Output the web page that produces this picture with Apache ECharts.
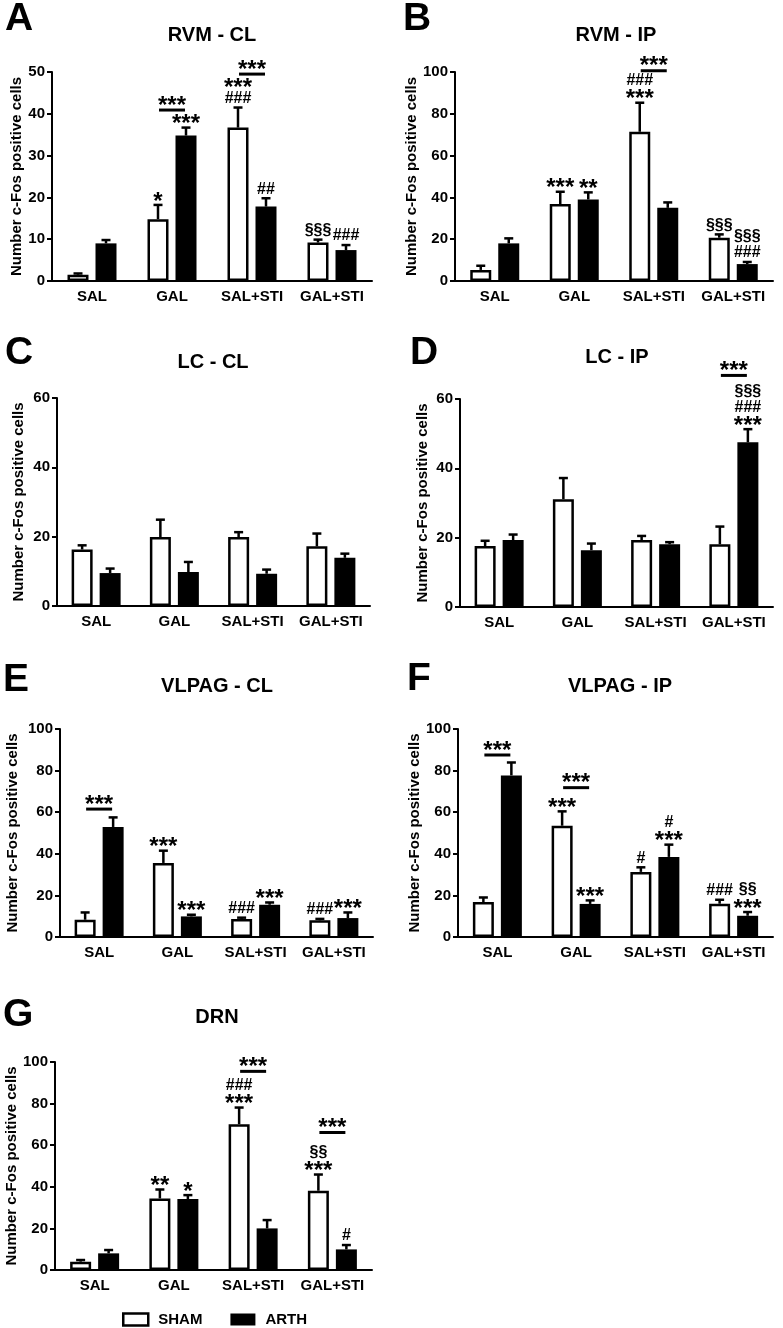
<!DOCTYPE html>
<html>
<head>
<meta charset="utf-8">
<script src="https://cdn.jsdelivr.net/npm/echarts@6/dist/echarts.min.js"></script>
<style>
html,body{margin:0;padding:0;background:#fff;}
#chart{width:783px;height:1328px;}
</style>
</head>
<body>
<div id="chart"></div>
<script>
// ---------- DATA ----------
const categories = ['SAL', 'GAL', 'SAL+STI', 'GAL+STI'];
const seriesNames = ['SHAM', 'ARTH'];
const panelLetters = ['A', 'B', 'C', 'D', 'E', 'F', 'G'];
const panelTitles = ['RVM - CL', 'RVM - IP', 'LC - CL', 'LC - IP', 'VLPAG - CL', 'VLPAG - IP', 'DRN'];
const yAxisName = 'Number c-Fos positive cells';
const yMaxes = [50, 100, 60, 60, 100, 100, 100];
const yIntervals = [10, 20, 20, 20, 20, 20, 20];

// means and SEM per panel
const shamA = [1.5, 14.8, 36.7, 9.2];   const shamSemA = [0.3, 3.4, 4.8, 0.7];
const arthA = [9.0, 34.8, 17.8, 7.4];   const arthSemA = [0.8, 1.9, 2.0, 1.2];
const shamB = [5.3, 36.8, 71.4, 20.7];  const shamSemB = [2.0, 5.9, 13.9, 1.6];
const arthB = [18.0, 39.0, 35.0, 8.1];  const arthSemB = [2.4, 3.4, 2.6, 1.0];
const shamC = [16.3, 19.9, 19.9, 17.2]; const shamSemC = [1.2, 5.0, 1.4, 3.7];
const arthC = [9.5, 9.8, 9.3, 13.9];    const arthSemC = [1.3, 2.9, 1.2, 1.2];
const shamD = [17.6, 31.1, 19.3, 18.1]; const shamSemD = [1.5, 6.1, 1.2, 5.1];
const arthD = [19.3, 16.4, 18.1, 47.5]; const arthSemD = [1.6, 1.9, 0.6, 3.8];
const shamE = [8.3, 35.6, 8.7, 8.0];    const shamSemE = [3.5, 5.9, 0.6, 0.7];
const arthE = [52.9, 9.9, 15.5, 9.1];   const arthSemE = [4.6, 0.8, 1.1, 2.7];
const shamF = [16.8, 53.5, 31.3, 16.0]; const shamSemF = [2.2, 6.9, 2.2, 1.9];
const arthF = [77.7, 15.9, 38.5, 10.2]; const arthSemF = [6.2, 1.7, 5.9, 1.8];
const shamG = [4.0, 34.4, 70.1, 38.1];  const shamSemG = [0.8, 4.3, 8.0, 7.8];
const arthG = [8.0, 34.1, 20.0, 9.9];   const arthSemG = [1.6, 1.9, 4.0, 2.1];

// significance marks: [category, series(0 SHAM / 1 ARTH), rows from bar upward]
const marksA = [[1,0,['*']],[1,1,['***']],[2,0,['###','***']],[2,1,['##']],[3,0,['§§§']],[3,1,['###']]];
const marksB = [[1,0,['***']],[1,1,['**']],[2,0,['***','###']],[3,0,['§§§']],[3,1,['###','§§§']]];
const marksC = [];
const marksD = [[3,1,['***','###','§§§']]];
const marksE = [[1,0,['***']],[1,1,['***']],[2,0,['###']],[2,1,['***']],[3,0,['###']],[3,1,['***']]];
const marksF = [[1,0,['***']],[1,1,['***']],[2,0,['#']],[2,1,['***','#']],[3,0,['###']],[3,1,['***','§§']]];
const marksG = [[1,0,['**']],[1,1,['*']],[2,0,['***','###']],[3,0,['***','§§']],[3,1,['#']]];

// comparison brackets: [category, y value of line, label]
const bracketsA = [[1, 40.9, '***'], [2, 49.5, '***']];
const bracketsB = [[2, 100.6, '***']];
const bracketsC = [];
const bracketsD = [[3, 66.8, '***']];
const bracketsE = [[0, 61.5, '***']];
const bracketsF = [[0, 87.5, '***'], [1, 71.8, '***']];
const bracketsG = [[2, 95.5, '***'], [3, 66.1, '***']];

// ---------- LAYOUT ----------
const FONT = '"Liberation Sans", Arial, Helvetica, sans-serif';
const grids = [
  {left: 52, top: 72, width: 320, height: 209},
  {left: 455, top: 72, width: 318, height: 209},
  {left: 57, top: 398, width: 313, height: 208},
  {left: 460, top: 399, width: 313, height: 208},
  {left: 60, top: 729, width: 313, height: 208},
  {left: 458, top: 729, width: 315, height: 208},
  {left: 55, top: 1062, width: 317, height: 208}
];
const nameGaps = [26, 29, 31, 30, 40, 33, 35];
const letterPos = [[5, 19], [403, 19], [5, 353], [410, 353], [3, 680], [407, 679], [3, 1015]];
const titlePos = [[212, 35], [616, 35], [213, 362], [617, 357], [217, 686], [620, 686], [217, 1017]];

const BAR_W = 21, BAR_GAP = 7, OFF = (BAR_W + BAR_GAP) / 2, CAP = 9;
const STAR_FS = 24, SYM_FS = 16;

const panels = [
  [shamA, shamSemA, arthA, arthSemA, marksA, bracketsA],
  [shamB, shamSemB, arthB, arthSemB, marksB, bracketsB],
  [shamC, shamSemC, arthC, arthSemC, marksC, bracketsC],
  [shamD, shamSemD, arthD, arthSemD, marksD, bracketsD],
  [shamE, shamSemE, arthE, arthSemE, marksE, bracketsE],
  [shamF, shamSemF, arthF, arthSemF, marksF, bracketsF],
  [shamG, shamSemG, arthG, arthSemG, marksG, bracketsG]
];

function rowText(x, yBottom, r) {
  const isStar = r[0] === '*';
  const h = isStar ? 8 : 11;
  const cy = yBottom - h / 2;
  return {
    el: {
      type: 'text',
      style: {
        text: r, x: x, y: isStar ? cy + 0.21 * STAR_FS : cy + 0.5,
        font: 'bold ' + (isStar ? STAR_FS : SYM_FS) + 'px ' + FONT,
        fill: '#000', textAlign: 'center', textVerticalAlign: 'middle'
      }
    },
    h: h
  };
}

function renderErr(params, api) {
  const cat = api.value(0), mean = api.value(1), top = api.value(2), s = api.value(3);
  const b = api.coord([cat, mean]);
  const t = api.coord([cat, top]);
  const x = b[0] + (s === 0 ? -OFF : OFF);
  return {
    type: 'group',
    children: [
      {type: 'line', shape: {x1: x, y1: b[1], x2: x, y2: t[1]}, style: {stroke: '#000', lineWidth: 2.5}},
      {type: 'line', shape: {x1: x - CAP / 2, y1: t[1], x2: x + CAP / 2, y2: t[1]}, style: {stroke: '#000', lineWidth: 2.5}}
    ]
  };
}

function makeMarkRenderer(marks) {
  return function (params, api) {
    const cat = api.value(0), top = api.value(1), s = api.value(2);
    const rows = marks[params.dataIndex][2];
    const t = api.coord([cat, top]);
    const x = t[0] + (s === 0 ? -OFF : OFF);
    let y = t[1] - 4;
    const children = [];
    rows.forEach(function (r) {
      const o = rowText(x, y, r);
      children.push(o.el);
      y -= o.h + 5;
    });
    return {type: 'group', children: children};
  };
}

function makeBracketRenderer(brackets) {
  return function (params, api) {
    const cat = api.value(0), v = api.value(1);
    const p = api.coord([cat, v]);
    const label = brackets[params.dataIndex][2];
    const o = rowText(p[0], p[1] - 5, label);
    return {
      type: 'group',
      children: [
        {type: 'line', shape: {x1: p[0] - 13, y1: p[1], x2: p[0] + 13, y2: p[1]}, style: {stroke: '#000', lineWidth: 3}},
        o.el
      ]
    };
  };
}

const option = {
  animation: false,
  backgroundColor: '#fff',
  textStyle: {fontFamily: FONT},
  grid: [], xAxis: [], yAxis: [], series: [], graphic: [],
  legend: {
    left: 117, top: 1307, itemWidth: 25, itemHeight: 12, itemGap: 28,
    icon: 'rect',
    textStyle: {fontFamily: FONT, fontWeight: 'bold', fontSize: 15, color: '#000', padding: [0, 0, 0, 5]},
    data: [
      {name: 'SHAM', icon: 'rect', itemStyle: {color: '#fff', borderColor: '#000', borderWidth: 2.5}},
      {name: 'ARTH', icon: 'rect', itemStyle: {color: '#000', borderColor: '#000', borderWidth: 0}}
    ]
  }
};

panels.forEach(function (p, i) {
  const [sham, shamSem, arth, arthSem, marks, brackets] = p;
  option.grid.push(Object.assign({containLabel: false}, grids[i]));
  option.xAxis.push({
    type: 'category', gridIndex: i, data: categories,
    axisLine: {lineStyle: {color: '#000', width: 2}},
    axisTick: {alignWithLabel: true, length: 5, lineStyle: {color: '#000', width: 2}},
    axisLabel: {color: '#000', fontWeight: 'bold', fontSize: 15, fontFamily: FONT, margin: 8, interval: 0},
    splitLine: {show: false}
  });
  option.yAxis.push({
    type: 'value', gridIndex: i, min: 0, max: yMaxes[i], interval: yIntervals[i],
    name: yAxisName, nameLocation: 'middle', nameRotate: 90, nameGap: nameGaps[i],
    nameTextStyle: {color: '#000', fontWeight: 'bold', fontSize: 15, fontFamily: FONT},
    axisLine: {show: true, lineStyle: {color: '#000', width: 2}},
    axisTick: {show: true, length: 5, lineStyle: {color: '#000', width: 2}},
    axisLabel: {color: '#000', fontWeight: 'bold', fontSize: 15, fontFamily: FONT, margin: 7},
    splitLine: {show: false}
  });
  option.series.push({
    name: seriesNames[0], type: 'bar', xAxisIndex: i, yAxisIndex: i,
    data: sham, barWidth: BAR_W, barGap: (BAR_GAP / BAR_W * 100) + '%',
    itemStyle: {color: '#fff', borderColor: '#000', borderWidth: 2.5}
  });
  option.series.push({
    name: seriesNames[1], type: 'bar', xAxisIndex: i, yAxisIndex: i,
    data: arth, barWidth: BAR_W, barGap: (BAR_GAP / BAR_W * 100) + '%',
    itemStyle: {color: '#000', borderColor: '#000', borderWidth: 0}
  });
  const errData = [];
  categories.forEach(function (c, k) {
    errData.push([k, sham[k], sham[k] + shamSem[k], 0]);
    errData.push([k, arth[k], arth[k] + arthSem[k], 1]);
  });
  option.series.push({
    type: 'custom', xAxisIndex: i, yAxisIndex: i, data: errData, z: 5, clip: false,
    renderItem: renderErr, silent: true, encode: {x: 0, y: [1, 2]}
  });
  if (marks.length) {
    const sems = [shamSem, arthSem], means = [sham, arth];
    option.series.push({
      type: 'custom', xAxisIndex: i, yAxisIndex: i, z: 6, clip: false, silent: true,
      data: marks.map(function (m) { return [m[0], means[m[1]][m[0]] + sems[m[1]][m[0]], m[1]]; }),
      renderItem: makeMarkRenderer(marks), encode: {x: 0, y: 1}
    });
  }
  if (brackets.length) {
    option.series.push({
      type: 'custom', xAxisIndex: i, yAxisIndex: i, z: 6, clip: false, silent: true,
      data: brackets.map(function (b) { return [b[0], b[1]]; }),
      renderItem: makeBracketRenderer(brackets), encode: {x: 0, y: 1}
    });
  }
  option.graphic.push({
    type: 'text', x: letterPos[i][0], y: letterPos[i][1],
    style: {text: panelLetters[i], font: 'bold 39px ' + FONT, fill: '#000', textAlign: 'left', textVerticalAlign: 'middle'}
  });
  option.graphic.push({
    type: 'text', x: titlePos[i][0], y: titlePos[i][1],
    style: {text: panelTitles[i], font: 'bold 20px ' + FONT, fill: '#000', textAlign: 'center', textVerticalAlign: 'middle'}
  });
});

const chart = echarts.init(document.getElementById('chart'), null, {renderer: 'canvas'});
chart.setOption(option);
</script>
</body>
</html>
